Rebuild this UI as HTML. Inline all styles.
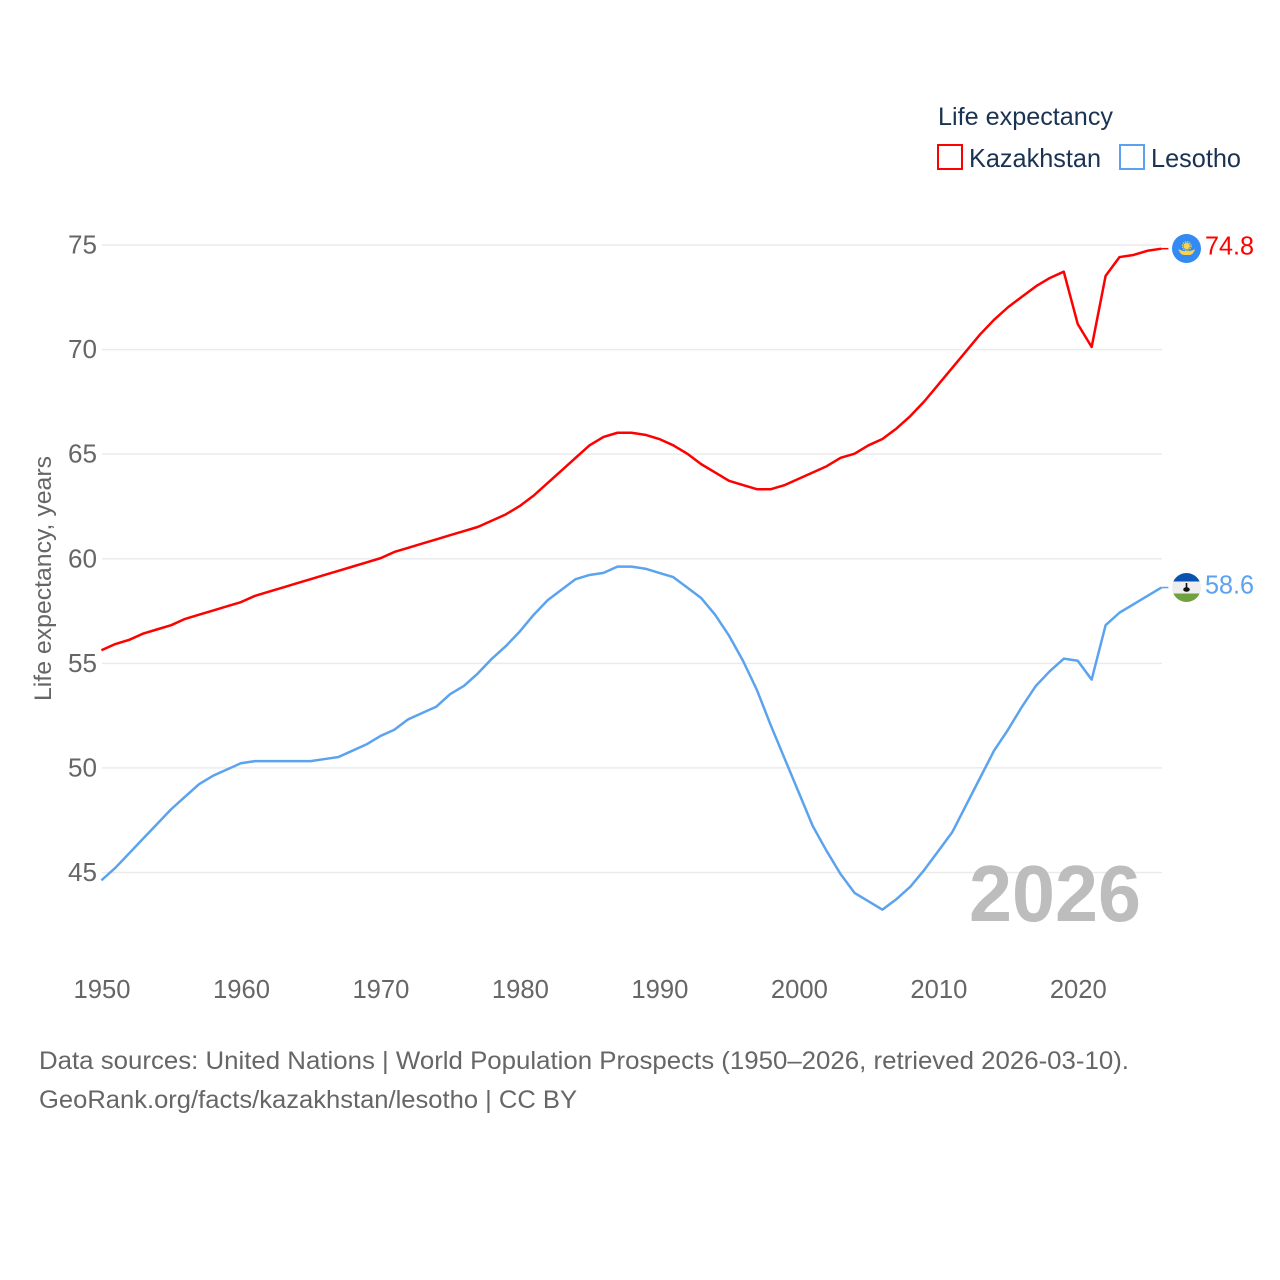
<!DOCTYPE html>
<html lang="en">
<head>
<meta charset="utf-8">
<title>Life expectancy: Kazakhstan and Lesotho</title>
<style>
html,body{margin:0;padding:0;background:#fff;width:1280px;height:1280px;overflow:hidden}
svg{display:block}
text{font-family:"Liberation Sans",sans-serif}
</style>
</head>
<body>
<svg id="chart" xmlns="http://www.w3.org/2000/svg" width="1280" height="1280" viewBox="0 0 1280 1280">
  <rect width="1280" height="1280" fill="#fff"/>
  <g id="grid"></g>
  <g id="yticks"></g>
  <g id="xticks"></g>
  <text transform="translate(51,701) rotate(-90)" font-size="24" fill="#666" textLength="245" lengthAdjust="spacingAndGlyphs">Life expectancy, years</text>
  <text x="969" y="921" font-size="80" font-weight="700" fill="#bdbdbd" textLength="172" lengthAdjust="spacingAndGlyphs">2026</text>
  <g id="series"></g>
  <g>
    <text x="938" y="125" font-size="25" fill="#1a3353" textLength="175" lengthAdjust="spacingAndGlyphs">Life expectancy</text>
    <rect x="938" y="145" width="24" height="24" fill="#fff" stroke="#ff0000" stroke-width="2"/>
    <text x="969" y="167" font-size="26" fill="#1a3353" textLength="132" lengthAdjust="spacingAndGlyphs">Kazakhstan</text>
    <rect x="1120" y="145" width="24" height="24" fill="#fff" stroke="#5ba3ee" stroke-width="2"/>
    <text x="1151" y="167" font-size="26" fill="#1a3353" textLength="90" lengthAdjust="spacingAndGlyphs">Lesotho</text>
  </g>
  <g>
    <circle cx="1186.5" cy="248.500" r="14.500" fill="#338af3"/>
    <circle cx="1186.700" cy="246" r="3.200" fill="#fbd34a"/>
    <circle cx="1186.700" cy="246" r="4.300" fill="none" stroke="#fbd34a" stroke-width="1.200" stroke-dasharray="1.300 1"/>
    <path d="M1178.300 249 Q1182 251.500 1186.700 251 Q1191.500 251.500 1195 249 Q1193.500 255 1189 255 L1184.500 255 Q1180 255 1178.300 249Z" fill="#fbd34a"/>
  </g>
  <g>
    <clipPath id="lesotho-clip"><circle cx="1186.5" cy="587.5" r="14.5"/></clipPath>
    <g clip-path="url(#lesotho-clip)">
      <rect x="1172" y="573" width="29" height="8.500" fill="#0a52b0"/>
      <rect x="1172" y="581.500" width="29" height="12" fill="#eeeeee"/>
      <rect x="1172" y="593.500" width="29" height="9.500" fill="#6fa23f"/>
    </g>
    <rect x="1185.700" y="583" width="1.600" height="6" fill="#111"/>
    <ellipse cx="1186.500" cy="589.500" rx="3.300" ry="2.300" fill="#111"/>
  </g>
  <g>
    <text x="39" y="1069" font-size="25" fill="#666" textLength="1090" lengthAdjust="spacingAndGlyphs">Data sources: United Nations | World Population Prospects (1950–2026, retrieved 2026-03-10).</text>
    <text x="39" y="1108" font-size="25" fill="#666" textLength="538" lengthAdjust="spacingAndGlyphs">GeoRank.org/facts/kazakhstan/lesotho | CC BY</text>
  </g>
</svg>
<script>
const startYear = 1950;
const yTickValues = [45, 50, 55, 60, 65, 70, 75];
const xTickValues = [1950, 1960, 1970, 1980, 1990, 2000, 2010, 2020];
const kazakhstan = [55.6,55.9,56.1,56.4,56.6,56.8,57.1,57.3,57.5,57.7,57.9,58.2,58.4,58.6,58.8,59.0,59.2,59.4,59.6,59.8,60.0,60.3,60.5,60.7,60.9,61.1,61.3,61.5,61.8,62.1,62.5,63.0,63.6,64.2,64.8,65.4,65.8,66.0,66.0,65.9,65.7,65.4,65.0,64.5,64.1,63.7,63.5,63.3,63.3,63.5,63.8,64.1,64.4,64.8,65.0,65.4,65.7,66.2,66.8,67.5,68.3,69.1,69.9,70.7,71.4,72.0,72.5,73.0,73.4,73.7,71.2,70.1,73.5,74.4,74.5,74.7,74.8];
const lesotho = [44.6,45.2,45.9,46.6,47.3,48.0,48.6,49.2,49.6,49.9,50.2,50.3,50.3,50.3,50.3,50.3,50.4,50.5,50.8,51.1,51.5,51.8,52.3,52.6,52.9,53.5,53.9,54.5,55.2,55.8,56.5,57.3,58.0,58.5,59.0,59.2,59.3,59.6,59.6,59.5,59.3,59.1,58.6,58.1,57.3,56.3,55.1,53.7,52.0,50.4,48.8,47.2,46.0,44.9,44.0,43.6,43.2,43.7,44.3,45.1,46.0,46.9,48.2,49.5,50.8,51.8,52.9,53.9,54.6,55.2,55.1,54.2,56.8,57.4,57.8,58.2,58.6];

const NS = 'http://www.w3.org/2000/svg';
function xScale(year) { return 102 + (year - 1950) * (1162 - 102) / 76; }
function yScale(v) { return 872.5 - (v - 45) * (872.5 - 245) / 30; }
function make(tag, attrs, parent) {
  const el = document.createElementNS(NS, tag);
  for (const k in attrs) el.setAttribute(k, attrs[k]);
  parent.appendChild(el);
  return el;
}
const grid = document.getElementById('grid');
const yticks = document.getElementById('yticks');
const xticks = document.getElementById('xticks');
const seriesGroup = document.getElementById('series');
seriesGroup.setAttribute('transform', 'translate(-0.6,-0.5)');

yTickValues.forEach(function (v) {
  const line = make('line', {x1: 102, x2: 1162, y1: yScale(v), y2: yScale(v), stroke: '#ebebeb', 'stroke-width': 1.5}, grid);
  
  
  const t = make('text', {x: 97, y: yScale(v) + 8.5, 'text-anchor': 'end', 'font-size': 26, fill: '#666', textLength: 29, lengthAdjust: 'spacingAndGlyphs'}, yticks);
  t.textContent = String(v);
  
  
});

xTickValues.forEach(function (year) {
  const t = make('text', {x: xScale(year), y: 998, 'text-anchor': 'middle', 'font-size': 26, fill: '#666', textLength: 57, lengthAdjust: 'spacingAndGlyphs'}, xticks);
  t.textContent = String(year);
  
  
});

function drawSeries(values, color, label) {
  const pts = values.map(function (v, i) {
    return xScale(startYear + i).toFixed(2) + ',' + yScale(v).toFixed(2);
  });
  const path = make('polyline', {points: pts.join(' '), fill: 'none', stroke: color, 'stroke-width': 2.5, 'stroke-linejoin': 'round'}, seriesGroup);
  
  
  const last = values[values.length - 1];
  const lastY = yScale(last);
  const conn = make('line', {x1: xScale(startYear + values.length - 1), x2: 1169, y1: lastY, y2: lastY, stroke: color, 'stroke-width': 1.5}, seriesGroup);
  
  
  const t = make('text', {x: 1205.6, y: lastY + 6, 'font-size': 26, fill: color, textLength: 49, lengthAdjust: 'spacingAndGlyphs'}, seriesGroup);
  t.textContent = last.toFixed(1);
  
  
}
drawSeries(kazakhstan, '#ff0000', 'kazakhstan');
drawSeries(lesotho, '#5ba3ee', 'lesotho');
</script>
</body>
</html>
